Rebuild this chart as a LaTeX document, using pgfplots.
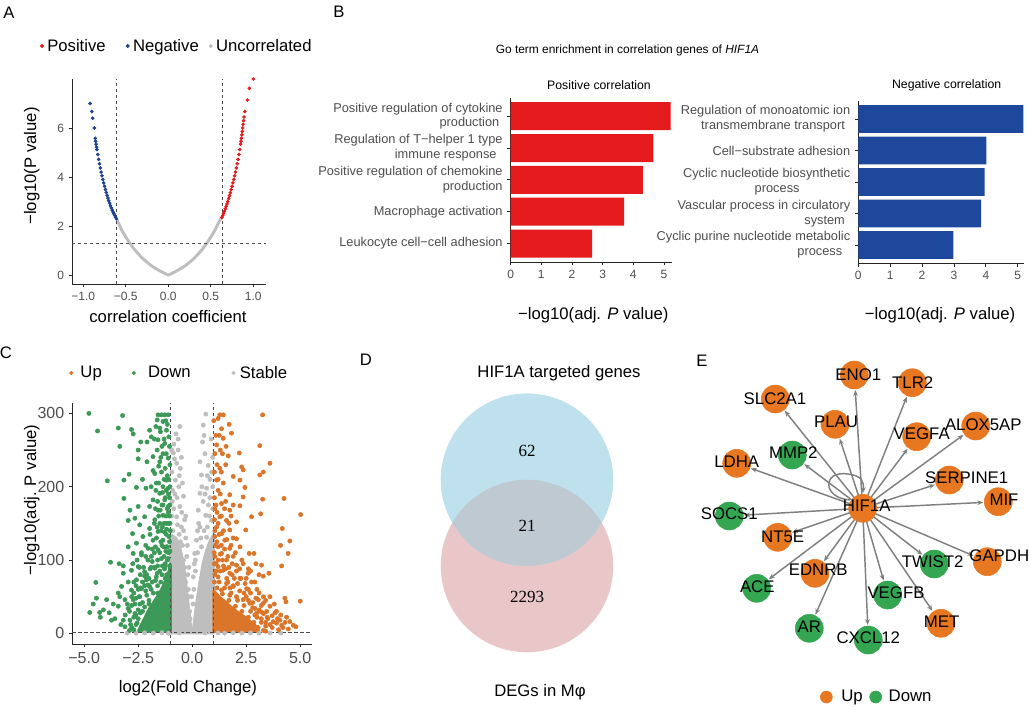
\documentclass[border=0pt]{standalone}
\usepackage{fontspec}
\setmainfont{Liberation Sans}
\newfontfamily\serif{Liberation Serif}
\usepackage{pgfplots}
\pgfplotsset{compat=1.18}
\usetikzlibrary{arrows.meta}

\definecolor{aRed}{RGB}{228,26,28}
\definecolor{aBlue}{RGB}{30,65,145}
\definecolor{ggGrey}{RGB}{190,190,190}
\definecolor{bRed}{RGB}{228,26,28}
\definecolor{bBlue}{RGB}{29,72,156}
\definecolor{cOrange}{RGB}{219,117,42}
\definecolor{cGreen}{RGB}{61,153,87}
\definecolor{eOrange}{RGB}{232,119,34}
\definecolor{eGreen}{RGB}{52,166,82}
\definecolor{vBlue}{RGB}{190,225,237}
\definecolor{vRed}{RGB}{233,198,199}
\definecolor{vMix}{RGB}{191,201,210}
\definecolor{tickGrey}{RGB}{77,77,77}
\definecolor{edgeGrey}{RGB}{128,128,128}

\newcommand\fTick{\fontsize{9}{10.8}\selectfont}
\newcommand\fCTick{\fontsize{12}{14}\selectfont}
\newcommand\fLab{\fontsize{12.5}{15}\selectfont}
\newcommand\fCat{\fontsize{9.6}{11.2}\selectfont}
\newcommand\fSmall{\fontsize{9.2}{11}\selectfont}
\newcommand\fTitle{\fontsize{8.95}{11}\selectfont}
\newcommand\fPanel{\fontsize{12.5}{15}\selectfont}
\newcommand\fNode{\fontsize{12.6}{15}\selectfont}

\pgfplotsset{
  gg/.style={scale only axis, axis lines=left,
    axis line style={-, black!85, line width=0.6pt},
    tick style={black!85, line width=0.6pt}, tick align=outside,
    major tick length=2.5pt, clip=false,
    /pgf/number format/assume math mode=true,
    tick label style={text=tickGrey}},
  ggdash/.style={black!70, line width=0.6pt, dash pattern=on 2.5pt off 2pt},
  dotlegend/.style={legend style={draw=none, fill=none, inner sep=0pt,
    outer sep=0pt, nodes={inner sep=1pt}, legend columns=-1}},
  netbox/.style={scale only axis, axis lines=none, at={(525pt,-266.25pt)},
    anchor=north west, width=246.75pt, height=264pt, xmin=700, xmax=1029,
    ymin=355, ymax=707, y dir=reverse, clip=false},
}

\begin{document}
\begin{tikzpicture}
\path[use as bounding box] (0,0) rectangle (771.75pt,-530.25pt);

% ---------------- A ----------------
\begin{axis}[gg, at={(54pt,-59.25pt)}, anchor=north west,
    width=145.5pt, height=153.75pt,
    xmin=-1.133, xmax=1.149, ymin=-0.367, ymax=8,
    xtick={-1,-0.5,0,0.5,1}, xticklabels={−1.0,−0.5,0.0,0.5,1.0},
    ytick={0,2,4,6}, tick label style={font=\fTick},
    dotlegend,
    legend style={at={(axis description cs:-0.165,1.161)}, anchor=west}]
\addlegendimage{legend image code/.code={\fill[aRed] (0pt,0pt) circle (1.3pt);}}
\addlegendentry{\fLab\kern1.5pt Positive\kern14pt}
\addlegendimage{legend image code/.code={\fill[aBlue] (0pt,0pt) circle (1.3pt);}}
\addlegendentry{\fLab\kern1.5pt Negative\kern6.5pt}
\addlegendimage{legend image code/.code={\fill[ggGrey] (0pt,0pt) circle (1.3pt);}}
\addlegendentry{\fLab\kern1.5pt Uncorrelated}
\addplot[ggGrey, line width=2.2pt, forget plot] coordinates {
 (-0.61,2.3) (-0.55,1.84) (-0.5,1.55) (-0.45,1.28) (-0.4,1.05) (-0.35,0.85)
 (-0.3,0.67) (-0.25,0.52) (-0.2,0.38) (-0.15,0.27) (-0.1,0.17) (-0.05,0.08)
 (0,0) (0.05,0.08) (0.1,0.17) (0.15,0.27) (0.2,0.38) (0.25,0.52) (0.3,0.67)
 (0.35,0.85) (0.4,1.05) (0.45,1.28) (0.5,1.55) (0.55,1.84) (0.6,2.2) (0.63,2.35)};
\addplot[only marks, mark=*, mark size=1.15pt, aRed, forget plot] coordinates {
 (0.63,2.35) (0.64,2.43) (0.65,2.52) (0.66,2.6) (0.67,2.7) (0.68,2.8) (0.69,2.9)
 (0.7,3.0) (0.71,3.12) (0.72,3.24) (0.73,3.36) (0.74,3.49) (0.75,3.62) (0.76,3.76)
 (0.77,3.9) (0.78,4.05) (0.79,4.2) (0.8,4.37) (0.81,4.54) (0.82,4.72) (0.83,4.92)
 (0.84,5.12) (0.85,5.34) (0.855,5.46) (0.86,5.58) (0.865,5.72) (0.87,5.86)
 (0.875,6.0) (0.88,6.15) (0.885,6.3) (0.89,6.45) (0.9,6.67) (0.93,7.14)
 (0.953,7.62) (1.0,8.0)};
\addplot[only marks, mark=*, mark size=1.15pt, aBlue, forget plot] coordinates {
 (-0.61,2.3) (-0.62,2.36) (-0.63,2.43) (-0.64,2.5) (-0.65,2.57) (-0.66,2.65)
 (-0.67,2.74) (-0.68,2.83) (-0.69,2.93) (-0.7,3.03) (-0.71,3.14) (-0.72,3.25)
 (-0.73,3.37) (-0.74,3.49) (-0.75,3.62) (-0.76,3.76) (-0.77,3.9) (-0.78,4.05)
 (-0.79,4.2) (-0.8,4.37) (-0.81,4.54) (-0.82,4.72) (-0.83,4.92) (-0.84,5.12)
 (-0.845,5.22) (-0.85,5.34) (-0.855,5.46) (-0.86,5.58) (-0.87,6.0) (-0.89,6.4)
 (-0.9,6.67) (-0.92,7.0)};
\addplot[ggdash, forget plot] coordinates {(-0.61,-0.367) (-0.61,8)};
\addplot[ggdash, forget plot] coordinates {(0.635,-0.367) (0.635,8)};
\addplot[ggdash, forget plot] coordinates {(-1.133,1.3) (1.149,1.3)};
\end{axis}

% ---------------- B positive ----------------
\begin{axis}[gg, at={(383pt,-73.3pt)}, anchor=north west,
    width=120.75pt, height=123.2pt,
    xbar, bar width=0.88, xmin=0, xmax=5.25, ymin=0.42, ymax=5.58,
    xtick={0,1,2,3,4,5}, ytick={1,2,3,4,5},
    xticklabel style={font=\fTick},
    yticklabel style={font=\fCat, align=right},
    yticklabels={{Leukocyte cell−cell adhesion},{Macrophage activation},
      {Positive regulation of chemokine\\production},
      {Regulation of T−helper 1 type\\immune response\hspace*{4.5pt}},
      {Positive regulation of cytokine\\production\hspace*{2.5pt}}}]
\addplot[fill=bRed, draw=none] coordinates {
 (2.66,1) (3.70,2) (4.31,3) (4.65,4) (5.22,5)};
\end{axis}

% ---------------- B negative ----------------
\begin{axis}[gg, at={(643.7pt,-75.5pt)}, anchor=north west,
    width=124.4pt, height=122pt,
    xbar, bar width=0.88, xmin=0, xmax=5.2, ymin=0.42, ymax=5.58,
    xtick={0,1,2,3,4,5}, ytick={1,2,3,4,5},
    xticklabel style={font=\fTick},
    yticklabel style={font=\fCat, align=right},
    yticklabels={{Cyclic purine nucleotide metabolic\\process\hspace*{6pt}},
      {Vascular process in circulatory\\system\hspace*{4pt}},
      {Cyclic nucleotide biosynthetic\\process\hspace*{38pt}},
      {Cell−substrate adhesion},
      {Regulation of monoatomic ion\\transmembrane transport\hspace*{4pt}}}]
\addplot[fill=bBlue, draw=none] coordinates {
 (2.98,1) (3.85,2) (3.96,3) (4.02,4) (5.18,5)};
\end{axis}

% ---------------- C ----------------
\begin{axis}[gg, at={(54.2pt,-302pt)}, anchor=north west,
    width=179.55pt, height=181pt,
    xmin=-5.55, xmax=5.53, ymin=-14.5, ymax=314.6,
    xtick={-5,-2.5,0,2.5,5}, xticklabels={−5.0,−2.5,0.0,2.5,5.0},
    ytick={0,100,200,300}, tick label style={font=\fCTick},
    dotlegend,
    legend style={at={(axis description cs:-0.0125,1.123)}, anchor=west}]
\addlegendimage{legend image code/.code={\fill[cOrange] (0pt,0pt) circle (1.3pt);}}
\addlegendentry{\fLab\kern4.4pt Up\kern21.5pt}
\addlegendimage{legend image code/.code={\fill[cGreen] (0pt,0pt) circle (1.3pt);}}
\addlegendentry{\fLab\kern8.2pt Down\kern29.7pt}
\addlegendimage{legend image code/.code={\fill[ggGrey] (0pt,0pt) circle (1.3pt);}}
\addlegendentry{\fLab\kern2.2pt Stable}
% stable genes
\addplot[fill=ggGrey, draw=ggGrey, line width=2pt, line join=round, forget plot] coordinates {
 (-1,0.3) (-0.05,0.3) (-0.07,10) (-0.12,25) (-0.2,45) (-0.3,70) (-0.4,95)
 (-0.55,115) (-0.75,130) (-1,135)} --cycle;
\addplot[fill=ggGrey, draw=ggGrey, line width=2pt, line join=round, forget plot] coordinates {
 (0.03,0.3) (1,0.3) (1,135) (0.85,128) (0.65,112) (0.5,95) (0.35,70) (0.22,45)
 (0.12,22) (0.06,8)} --cycle;
\addplot[only marks, mark=*, mark size=1.6pt, ggGrey, forget plot] coordinates {
 (-0.57,282) (-0.75,272) (-0.85,258) (-0.65,250) (-0.87,246) (-0.72,232) (-0.94,220)
 (-0.55,225) (-0.78,209) (-0.62,200) (-0.9,195) (-0.4,187) (-0.7,185) (-0.57,173)
 (-0.85,170) (-0.35,155) (-0.72,159) (-0.5,145) (-0.9,140) (-0.3,130) (-0.6,135)
 (-0.45,120) (-0.25,105) (-0.4,100) (-0.2,80) (-0.3,70) (-0.15,50) (-0.25,45)
 (-0.12,30) (-0.1,20) (-0.18,60) (-0.35,90) (-0.8,128) (-0.95,250) (-0.65,265)
 (-0.82,238) (-0.48,165) (-0.68,148) (-0.92,180)
 (-0.95,100) (-0.85,95) (-0.7,110) (-0.55,125) (-0.4,140) (-0.3,160) (-0.22,120)
 (-0.15,90) (-0.45,205) (-0.6,215) (-0.95,160) (-0.8,190) (-0.5,240)
 (0.63,299) (0.51,284) (0.48,261) (0.59,245) (0.36,234) (0.74,229) (0.43,216)
 (0.82,210) (0.67,198) (0.36,191) (0.51,180) (0.82,185) (0.28,168) (0.63,161)
 (0.9,154) (0.36,145) (0.2,127) (0.67,131) (0.12,109) (0.43,118) (0.05,77)
 (-0.03,50) (0.85,122) (0.95,240) (0.55,270) (0.75,175) (0.3,150) (0.25,140)
 (0.1,95) (0.15,85) (0.04,40) (0.08,60) (0.95,200) (0.88,265)
 (0.15,100) (0.25,110) (0.4,130) (0.55,140) (0.7,145) (0.8,160) (0.95,170)
 (0.9,220) (0.7,215) (0.45,200) (0.6,190)
 (-3.0,0.5) (-2.6,0.3) (-2.2,0.8) (-1.8,0.4) (-1.4,0.9) (-1.1,0.2) (1.2,0.6)
 (1.5,0.3) (1.9,0.8) (2.3,0.4) (2.7,0.7) (3.1,0.3) (3.6,0.6) (4.1,0.4)
 (-0.6,0.5) (0.6,0.5)};
% down-regulated
\addplot[fill=cGreen, draw=cGreen, line width=2pt, line join=round, forget plot] coordinates {
 (-2.5,2.5) (-1,2.5) (-1,95) (-1.08,85) (-1.2,75) (-1.35,64) (-1.55,53)
 (-1.8,42) (-2.05,30) (-2.25,18) (-2.4,9)} --cycle;
\addplot[only marks, mark=*, mark size=1.6pt, cGreen, forget plot] coordinates {
 (-4.78,300) (-3.22,297) (-4.38,276) (-3.42,280) (-3.35,255) (-3.93,208) (-3.16,209)
 (-2.92,217) (-3.16,184) (-2.58,199) (-2.30,210) (-3.78,97) (-4.46,69.5) (-4.43,48)
 (-4.58,40) (-4.74,28.5) (-4.28,28.5) (-4.25,22) (-3.38,95) (-3.19,92) (-3.65,40)
 (-3.84,28) (-3.42,55) (-3.35,50) (-3.58,20) (-3.19,18) (-2.96,118) (-2.76,136)
 (-2.96,154) (-2.88,168) (-2.50,173) (-2.65,157) (-2.81,278) (-2.73,272) (-2.38,261)
 (-2.50,250) (-2.09,261) (-1.89,268) (-1.97,277) (-2.50,238) (-2.09,234) (-1.81,222)
 (-2.14,198) (-1.58,298) (-1.42,298) (-1.27,298) (-1.11,298) (-1.62,291) (-1.35,289)
 (-1.68,282) (-1.47,275) (-1.19,277) (-1.58,264) (-1.27,259) (-1.62,250) (-1.35,245)
 (-1.11,239) (-1.50,234) (-1.81,241) (-1.73,218) (-1.42,220) (-1.19,209) (-1.66,205)
 (-1.35,200) (-1.11,198) (-1.50,191) (-1.81,182) (-1.27,182) (-1.11,173) (-1.97,173)
 (-1.58,168) (-2.20,159) (-1.73,155) (-1.35,161) (-2.43,148) (-1.97,143) (-1.19,150)
 (-1.58,139) (-2.28,132) (-1.81,127) (-1.35,127) (-2.58,123) (-2.04,116) (-1.58,114)
 (-1.19,118) (-2.73,109) (-2.35,107) (-1.89,105) (-1.42,102) (-3.19,82) (-2.81,86)
 (-2.50,91) (-2.20,84) (-1.73,89) (-1.27,91) (-2.58,73) (-2.96,70) (-2.12,73)
 (-1.66,77) (-3.27,64) (-2.81,59) (-2.35,61) (-1.97,64) (-3.11,46) (-2.73,46)
 (-2.43,50) (-2.96,34) (-2.65,27) (-3.42,37) (-3.96,46) (-4.11,32) (-3.73,18)
 (-2.88,18) (-3.11,9)
 (-2.7,5) (-2.6,12) (-2.5,20) (-2.4,28) (-2.2,36) (-2.0,45) (-1.8,55) (-1.6,65)
 (-1.4,80) (-1.25,95) (-1.1,110) (-1.05,125) (-1.15,118) (-1.3,105) (-1.5,85)
 (-1.7,72) (-1.9,60) (-2.1,52) (-2.3,42) (-2.5,32) (-2.7,22) (-2.85,12) (-2.9,4)
 (-1.02,140) (-1.1,150) (-1.2,135) (-1.4,120) (-1.6,100) (-1.75,90) (-2.0,75)
 (-2.2,65) (-2.45,50) (-2.65,40)
 (-1.05,160) (-1.15,170) (-1.3,150) (-1.45,140) (-1.65,130) (-1.85,115) (-2.05,100)
 (-2.25,90) (-2.4,80) (-2.6,65) (-2.8,50) (-3.0,40) (-1.05,185) (-1.2,195)
 (-1.4,175) (-1.55,160) (-1.75,150) (-1.95,135) (-2.15,120) (-2.35,110) (-2.55,100)
 (-2.75,95) (-1.08,210) (-1.25,225) (-1.45,240) (-1.3,265) (-1.15,285) (-1.05,255)
 (-1.5,110) (-1.7,118) (-1.9,90) (-2.1,80) (-2.3,70) (-2.5,60) (-2.7,55) (-2.9,30)
 (-3.1,25) (-3.3,12) (-1.25,75) (-1.6,55) (-2.0,40) (-2.3,30) (-2.6,25) (-2.8,8)
 (-1.12,102) (-1.38,92) (-1.62,82) (-1.85,70) (-2.15,58) (-2.42,40) (-2.55,14)
 (-1.03,65) (-1.1,72) (-1.18,80) (-1.28,88) (-1.05,92) (-1.15,100) (-1.22,112)
 (-1.32,118) (-1.45,125) (-1.03,112) (-1.08,132) (-1.18,142) (-1.28,138) (-1.38,145)
 (-1.5,150) (-1.62,145) (-1.03,150) (-1.1,165) (-1.22,160) (-1.35,175) (-1.48,168)
 (-1.6,180) (-1.7,170) (-1.03,175) (-1.1,190) (-1.25,185) (-1.38,192) (-1.55,205)
 (-1.68,195) (-1.9,200) (-1.03,200) (-1.15,215) (-1.3,210) (-1.55,228) (-1.2,245)
 (-1.4,255) (-1.03,230) (-1.08,268) (-1.22,290) (-1.5,280) (-1.75,265) (-1.75,110)
 (-1.85,98) (-1.95,88) (-2.05,66) (-2.2,78) (-2.4,62) (-2.6,48) (-2.8,38) (-2.7,70)
 (-2.45,90) (-2.15,105) (-1.6,92) (-1.45,70) (-1.35,58)};
% up-regulated
\addplot[fill=cOrange, draw=cOrange, line width=2pt, line join=round, forget plot] coordinates {
 (1,2.5) (3.1,2.5) (2.95,10) (2.7,16) (2.4,23) (2.1,29) (1.8,36) (1.5,44) (1.25,50)
 (1.1,55) (1,58)} --cycle;
\addplot[only marks, mark=*, mark size=1.6pt, cOrange, forget plot] coordinates {
 (1.28,298) (1.44,298) (1.2,293) (3.26,298) (1.71,285) (1.36,279) (1.82,273)
 (1.44,266) (1.13,257) (1.57,255) (3.13,256) (1.05,245) (2.18,246) (1.67,242)
 (3.6,232) (1.28,225) (2.29,227) (2.36,223) (3.29,220) (3.13,216) (1.9,214)
 (1.13,209) (2.21,209) (1.44,205) (1.2,195) (2.44,199) (1.74,189) (2.36,186)
 (3.26,183) (4.25,184) (1.36,177) (1.05,170) (2.21,174) (1.74,168) (2.75,159)
 (3.17,163) (5.02,162) (1.28,159) (1.59,154) (2.05,152) (1.13,145) (1.74,141)
 (2.48,141) (4.17,143) (1.36,136) (1.05,132) (2.05,129) (1.51,127) (4.52,126)
 (4.09,120) (2.21,118) (1.2,118) (1.74,116) (1.36,109) (2.64,109) (2.86,109)
 (4.44,109) (1.05,105) (1.9,105) (1.59,100) (2.36,95) (2.05,93) (4.14,92) (1.2,91)
 (3.21,93) (1.44,86) (1.74,82) (2.59,82) (3.09,80) (3.29,78) (3.55,82) (1.2,77)
 (2.21,75) (2.9,70) (1.59,68) (1.9,64) (2.52,61) (1.36,59) (4.29,48) (4.34,43)
 (5.0,44) (3.06,46) (3.29,41) (3.6,37) (3.83,28) (4.06,18) (4.37,22) (4.52,16)
 (4.68,11) (4.8,9) (4.14,11) (3.75,16) (3.47,22) (3.21,29) (2.9,34) (2.67,41)
 (2.36,46) (2.05,50) (1.74,52)
 (3.3,4) (3.4,10) (3.2,15) (3.0,22) (2.7,30) (2.4,38) (2.1,45) (1.8,55) (1.5,62)
 (1.25,70) (1.05,80) (1.1,95) (1.3,85) (1.6,75) (1.9,65) (2.2,58) (2.5,50)
 (2.8,42) (3.1,32) (3.5,20) (3.7,8) (3.9,14) (1.02,110) (1.15,125) (1.4,100)
 (1.7,90) (2.6,60) (2.9,25) (3.3,27) (4.0,5)
 (1.05,140) (1.2,150) (1.35,120) (1.5,115) (1.65,105) (1.85,95) (2.05,85) (2.25,75)
 (2.45,68) (2.7,55) (2.95,48) (3.2,38) (3.45,30) (3.7,24) (3.95,20) (4.2,8)
 (4.45,6) (1.1,175) (1.3,190) (1.55,180) (1.8,160) (1.15,230) (1.4,245) (1.0,290)
 (1.25,270) (1.9,130) (2.3,100) (2.6,88) (2.75,70) (3.0,60) (3.3,50) (3.8,40)
 (1.6,35) (2.0,25) (2.4,15) (2.8,8) (3.4,3) (1.15,62) (1.4,54) (1.7,45) (2.0,37)
 (2.3,30) (2.6,22) (2.85,15) (3.05,8)
 (1.03,70) (1.1,85) (1.2,100) (1.3,108) (1.45,92) (1.55,88) (1.65,70) (1.75,62)
 (1.85,80) (1.95,75) (2.1,68) (2.2,88) (1.03,95) (1.08,120) (1.25,135) (1.45,140)
 (1.6,128) (1.8,120) (2.0,110) (1.03,155) (1.15,165) (1.35,160) (1.5,170) (1.7,150)
 (1.9,175) (1.03,185) (1.2,210) (1.35,220) (1.55,230) (1.03,220) (1.1,270) (1.3,250)
 (2.4,55) (2.6,45) (2.8,35) (3.0,28) (3.2,20) (3.4,15) (3.6,12) (2.5,75) (2.7,85)
 (2.95,95) (3.1,55) (3.4,45) (3.6,50) (3.9,30) (4.1,25) (4.3,15)};
\addplot[ggdash, forget plot] coordinates {(-1,-14.5) (-1,314.6)};
\addplot[ggdash, forget plot] coordinates {(1,-14.5) (1,314.6)};
\addplot[ggdash, forget plot] coordinates {(-5.55,1.3) (5.53,1.3)};
\end{axis}

% ---------------- D ----------------
\begin{axis}[scale only axis, axis lines=none, at={(322.5pt,-285pt)}, anchor=north west,
    width=172.5pt, height=217.5pt, xmin=430, xmax=660, ymin=380, ymax=670,
    y dir=reverse, clip=false]
\fill[vRed] (axis cs:527,566) circle[radius=64.7pt];
\fill[vBlue] (axis cs:527,479.7) circle[radius=64.7pt];
\begin{scope}
\clip (axis cs:527,566) circle[radius=64.7pt];
\fill[vMix] (axis cs:527,479.7) circle[radius=64.7pt];
\end{scope}
\node[font=\serif\fontsize{12.75}{15}\selectfont] at (axis cs:527,451) {62};
\node[font=\serif\fontsize{12.75}{15}\selectfont] at (axis cs:527,526) {21};
\node[font=\serif\fontsize{12.75}{15}\selectfont] at (axis cs:527,597) {2293};
\node[font=\fLab] at (axis cs:559,373) {HIF1A targeted genes};
\node[font=\fLab] at (axis cs:540,692) {DEGs in Mφ};
\end{axis}

% ---------------- E: edges and nodes ----------------
\begin{axis}[netbox, dotlegend,
    legend style={at={(axis description cs:0.365,0.0284)}, anchor=west}]
\addlegendimage{legend image code/.code={\fill[eOrange] (0pt,0pt) circle (4.5pt);}}
\addlegendentry{\fNode\kern5.5pt Up\kern4pt}
\addlegendimage{legend image code/.code={\fill[eGreen] (0pt,0pt) circle (4.5pt);}}
\addlegendentry{\fNode\kern4pt Down}
\addplot[edgeGrey, line width=1.1pt, -{Stealth[length=4.5pt,width=3.5pt]},
    quiver={u=\thisrow{u}, v=\thisrow{v}}, forget plot] table {
x y u v
862.7 508.3 -7.46 -118.3
862.7 508.3 44.1 -111.7
862.7 508.3 -78.0 -97.6
862.7 508.3 -23.0 -69.7
862.7 508.3 45.0 -59.6
862.7 508.3 100.9 -73.5
862.7 508.3 -58.4 -44.2
862.7 508.3 -111.9 -40.0
862.7 508.3 72.3 -23.6
862.7 508.3 120.7 -5.9
862.7 508.3 -118.5 6.8
862.7 508.3 -70.8 24.2
862.7 508.3 59.8 46.5
862.7 508.3 110.8 47.5
862.7 508.3 -38.8 52.9
862.7 508.3 -94.0 71.0
862.7 508.3 20.9 72.3
862.7 508.3 -47.3 106.3
862.7 508.3 69.8 102.6
862.7 508.3 5.0 116.7
};
\draw[edgeGrey, line width=1.1pt, -{Stealth[length=4.5pt,width=3.5pt]}]
  (axis cs:850,500) .. controls (axis cs:822,498) and (axis cs:822,470) ..
  (axis cs:848,474) .. controls (axis cs:862,476) and (axis cs:864,481) ..
  (axis cs:863,493);
\addplot[only marks, mark=*, mark size=10.5pt, eOrange, forget plot] table {
x y
854.3 375
912.3 382.7
775.3 399
835 424.3
916.7 436.7
975.7 426
736.7 463.3
949.3 480
998.3 501.7
777.7 537.3
987.3 561.7
815 573.3
941 623.3
862.7 508.3
};
\addplot[only marks, mark=*, mark size=10.5pt, eGreen, forget plot] table {
x y
792.3 455
729.3 516
934.3 564
756.7 588.3
887.7 595
809.3 628.3
868.3 640
};
\end{axis}

% ---------------- E: gene names on top ----------------
\begin{axis}[netbox]
\begin{scope}[every node/.style={font=\fNode, inner sep=0pt}]
\node at (axis cs:858.3,375) {ENO1};
\node at (axis cs:912.7,382.7) {TLR2};
\node at (axis cs:775,399) {SLC2A1};
\node at (axis cs:836,421.7) {PLAU};
\node at (axis cs:921.7,433.3) {VEGFA};
\node at (axis cs:983.3,424.3) {ALOX5AP};
\node at (axis cs:793.3,452.3) {MMP2};
\node at (axis cs:736.7,461.7) {LDHA};
\node at (axis cs:966.7,477.7) {SERPINE1};
\node at (axis cs:1004,499.3) {MIF};
\node at (axis cs:729.3,513.3) {SOCS1};
\node at (axis cs:782.7,536.7) {NT5E};
\node at (axis cs:932.7,561.7) {TWIST2};
\node at (axis cs:999.3,556) {GAPDH};
\node at (axis cs:818.3,570) {EDNRB};
\node at (axis cs:757.3,586.7) {ACE};
\node at (axis cs:896,592.7) {VEGFB};
\node at (axis cs:809.3,626.7) {AR};
\node at (axis cs:941.7,621.7) {MET};
\node at (axis cs:868.3,637.7) {CXCL12};
\node at (axis cs:866.7,506) {HIF1A};
\end{scope}
\end{axis}

% ---------------- texts ----------------
\node[font=\fPanel] at (6.75pt,-9.75pt) {A};
\node[font=\fPanel] at (254.25pt,-9pt) {B};
\node[font=\fPanel] at (4.5pt,-264.75pt) {C};
\node[font=\fPanel] at (274.5pt,-270pt) {D};
\node[font=\fPanel] at (526.5pt,-270.75pt) {E};
\node[font=\fLab, rotate=90] at (23.8pt,-124.5pt) {−log10(P value)};
\node[font=\fLab] at (126pt,-237.75pt) {correlation coefficient};
\node[font=\fTitle] at (470.6pt,-37.5pt) {Go term enrichment in correlation genes of \textit{HIF1A}};
\node[font=\fSmall] at (449.25pt,-63.75pt) {Positive correlation};
\node[font=\fSmall] at (710pt,-63.75pt) {Negative correlation};
\node[font=\fLab] at (445pt,-236.25pt) {−log10(adj. \textit{P} value)};
\node[font=\fLab] at (705pt,-236.25pt) {−log10(adj. \textit{P} value)};
\node[font=\fLab, rotate=90] at (23.8pt,-375pt) {−log10(adj. P value)};
\node[font=\fLab] at (141pt,-516pt) {log2(Fold Change)};
\end{tikzpicture}
\end{document}
